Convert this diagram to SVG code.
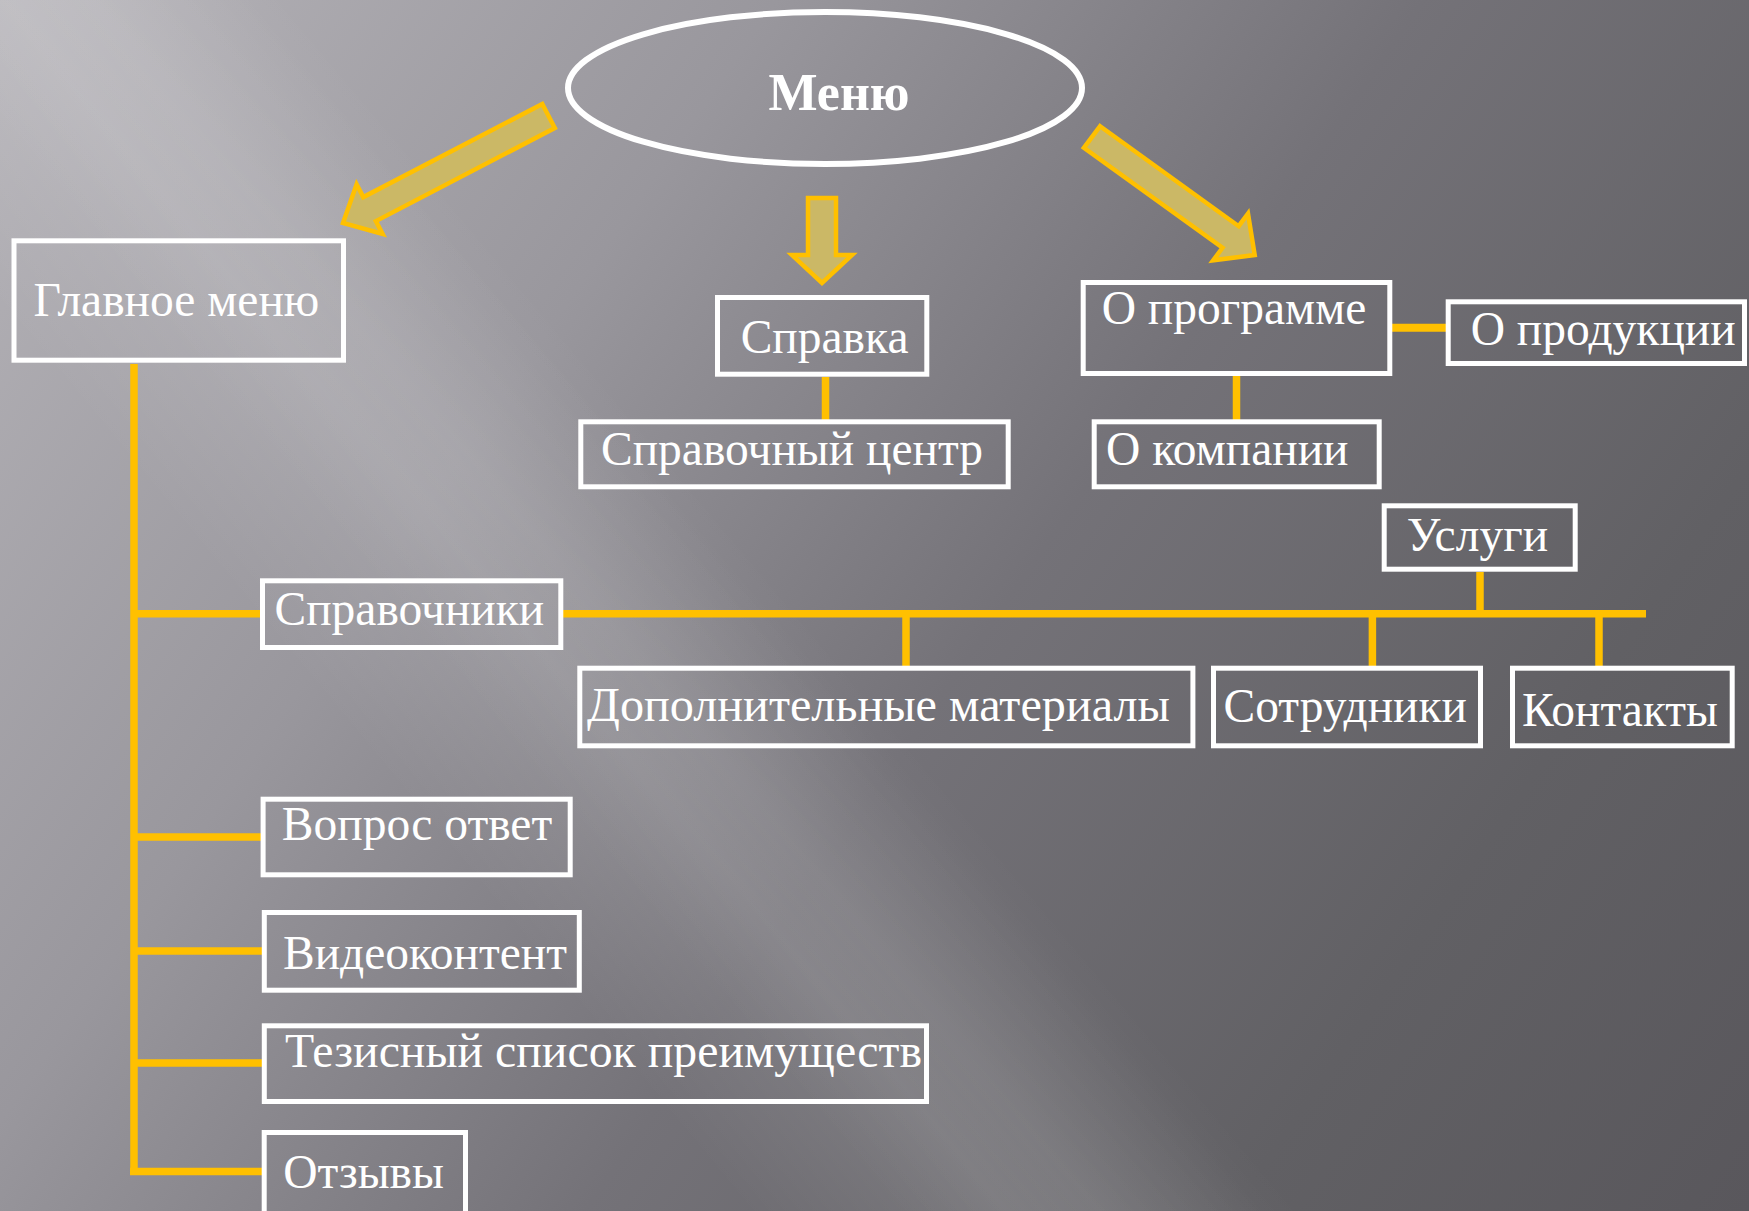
<svg xmlns="http://www.w3.org/2000/svg" width="1749" height="1211" viewBox="0 0 1749 1211">
<defs>
<linearGradient id="bg" gradientUnits="userSpaceOnUse" x1="0" y1="0" x2="1749" y2="1211">
<stop offset="0" stop-color="#b6b4b9"/>
<stop offset="0.3" stop-color="#99979d"/>
<stop offset="0.55" stop-color="#747278"/>
<stop offset="0.8" stop-color="#616064"/>
<stop offset="1" stop-color="#59575c"/>
</linearGradient>
<linearGradient id="band" gradientUnits="userSpaceOnUse" x1="96" y1="428" x2="404" y2="172">
<stop offset="0" stop-color="#ffffff" stop-opacity="0"/>
<stop offset="0.5" stop-color="#ffffff" stop-opacity="0.12"/>
<stop offset="1" stop-color="#ffffff" stop-opacity="0"/>
</linearGradient>
<linearGradient id="band2" gradientUnits="userSpaceOnUse" x1="520" y1="760" x2="760" y2="560">
<stop offset="0" stop-color="#ffffff" stop-opacity="0"/>
<stop offset="0.5" stop-color="#ffffff" stop-opacity="0.07"/>
<stop offset="1" stop-color="#ffffff" stop-opacity="0"/>
</linearGradient>
</defs>
<style>
.box{fill:none;stroke:#ffffff;stroke-width:5}
.lbl{font-family:"Liberation Serif","Times New Roman",serif;font-size:47.5px;fill:#ffffff}
.ln{stroke:#ffc000;stroke-width:7.5;fill:none}
.arr{fill:#cbb866;stroke:#ffc000;stroke-width:4.5;stroke-linejoin:miter}
</style>
<rect x="0" y="0" width="1749" height="1211" fill="url(#bg)"/>
<rect x="0" y="0" width="1749" height="1211" fill="url(#band)"/>
<rect x="0" y="0" width="1749" height="1211" fill="url(#band2)"/>

<g id="connectors">
<path class="ln" d="M134 364 V1175"/>
<path class="ln" d="M134 613.7 H262"/>
<path class="ln" d="M134 837 H262"/>
<path class="ln" d="M134 951 H263"/>
<path class="ln" d="M134 1063 H263"/>
<path class="ln" d="M130 1171.5 H263"/>
<path class="ln" d="M563 613.7 H1646"/>
<path class="ln" d="M1480 572 V610"/>
<path class="ln" d="M906 617 V667"/>
<path class="ln" d="M1372.4 617 V667"/>
<path class="ln" d="M1599 617 V667"/>
<path class="ln" d="M825.5 377 V420"/>
<path class="ln" d="M1236.5 376 V420"/>
<path class="ln" d="M1392 327.8 H1447" style="stroke-width:8"/>
<polygon class="arr" points="542.3,104 363.3,197.1 356.6,184.3 343,223 382.6,233.9 375.9,221.1 554.8,128"/>
<polygon class="arr" points="808,198 836,198 836,255 852,255 822,283 792,255 808,255"/>
<polygon class="arr" points="1100.1,126.2 1238.7,226.2 1248,213.7 1254.7,255 1213.2,260.3 1222.5,247.8 1083.9,147.8"/>
</g>

<g id="menu">
<ellipse cx="825" cy="88" rx="257" ry="76" fill="none" stroke="#ffffff" stroke-width="6"/>
<text x="839" y="110" text-anchor="middle" style="font-family:'Liberation Serif','Times New Roman',serif;font-size:52px;font-weight:bold;fill:#ffffff">Меню</text>
</g>
<g id="glavnoe">
<rect class="box" x="14" y="240.8" width="329.5" height="119.4"/>
<text class="lbl" x="33.5" y="315.5">Главное меню</text>
</g>
<g id="spravka">
<rect class="box" x="717.5" y="297.5" width="209.3" height="76.7"/>
<text class="lbl" x="740.7" y="353">Справка</text>
</g>
<g id="spravcentr">
<rect class="box" x="580.8" y="421.8" width="427.4" height="65"/>
<text class="lbl" x="601" y="465">Справочный центр</text>
</g>
<g id="oprog">
<rect class="box" x="1083.2" y="282.5" width="306.6" height="91"/>
<text class="lbl" x="1101.7" y="324">О программе</text>
</g>
<g id="oprod">
<rect class="box" x="1448.2" y="301.8" width="296.3" height="61.7"/>
<text class="lbl" x="1470.7" y="345">О продукции</text>
</g>
<g id="okomp">
<rect class="box" x="1094.2" y="421.8" width="285" height="65"/>
<text class="lbl" x="1106" y="465">О компании</text>
</g>
<g id="uslugi">
<rect class="box" x="1384.2" y="505.8" width="191" height="63.4"/>
<text class="lbl" x="1406.7" y="551">Услуги</text>
</g>
<g id="spravochniki">
<rect class="box" x="262.5" y="580.8" width="298.3" height="66.7"/>
<text class="lbl" x="274.5" y="625">Справочники</text>
</g>
<g id="dop">
<rect class="box" x="579.8" y="668.2" width="613.1" height="77.6"/>
<text class="lbl" x="587" y="721" textLength="583" lengthAdjust="spacingAndGlyphs">Дополнительные материалы</text>
</g>
<g id="sotr">
<rect class="box" x="1213.5" y="668.2" width="267" height="77.6"/>
<text class="lbl" x="1223.5" y="721.5">Сотрудники</text>
</g>
<g id="kont">
<rect class="box" x="1512.5" y="668.2" width="219.7" height="77.6"/>
<text class="lbl" x="1522" y="726">Контакты</text>
</g>
<g id="vopros">
<rect class="box" x="263.1" y="799.2" width="307.1" height="75.6"/>
<text class="lbl" x="281.8" y="839.5">Вопрос ответ</text>
</g>
<g id="video">
<rect class="box" x="264.3" y="912.5" width="315" height="77.7"/>
<text class="lbl" x="283" y="968.5">Видеоконтент</text>
</g>
<g id="tezis">
<rect class="box" x="264.3" y="1025.8" width="662.2" height="75.7"/>
<text class="lbl" x="285" y="1066.5" textLength="637" lengthAdjust="spacingAndGlyphs">Тезисный список преимуществ</text>
</g>
<g id="otzyvy">
<rect class="box" x="264.2" y="1132.5" width="201.3" height="90"/>
<text class="lbl" x="283.3" y="1188">Отзывы</text>
</g>
</svg>
